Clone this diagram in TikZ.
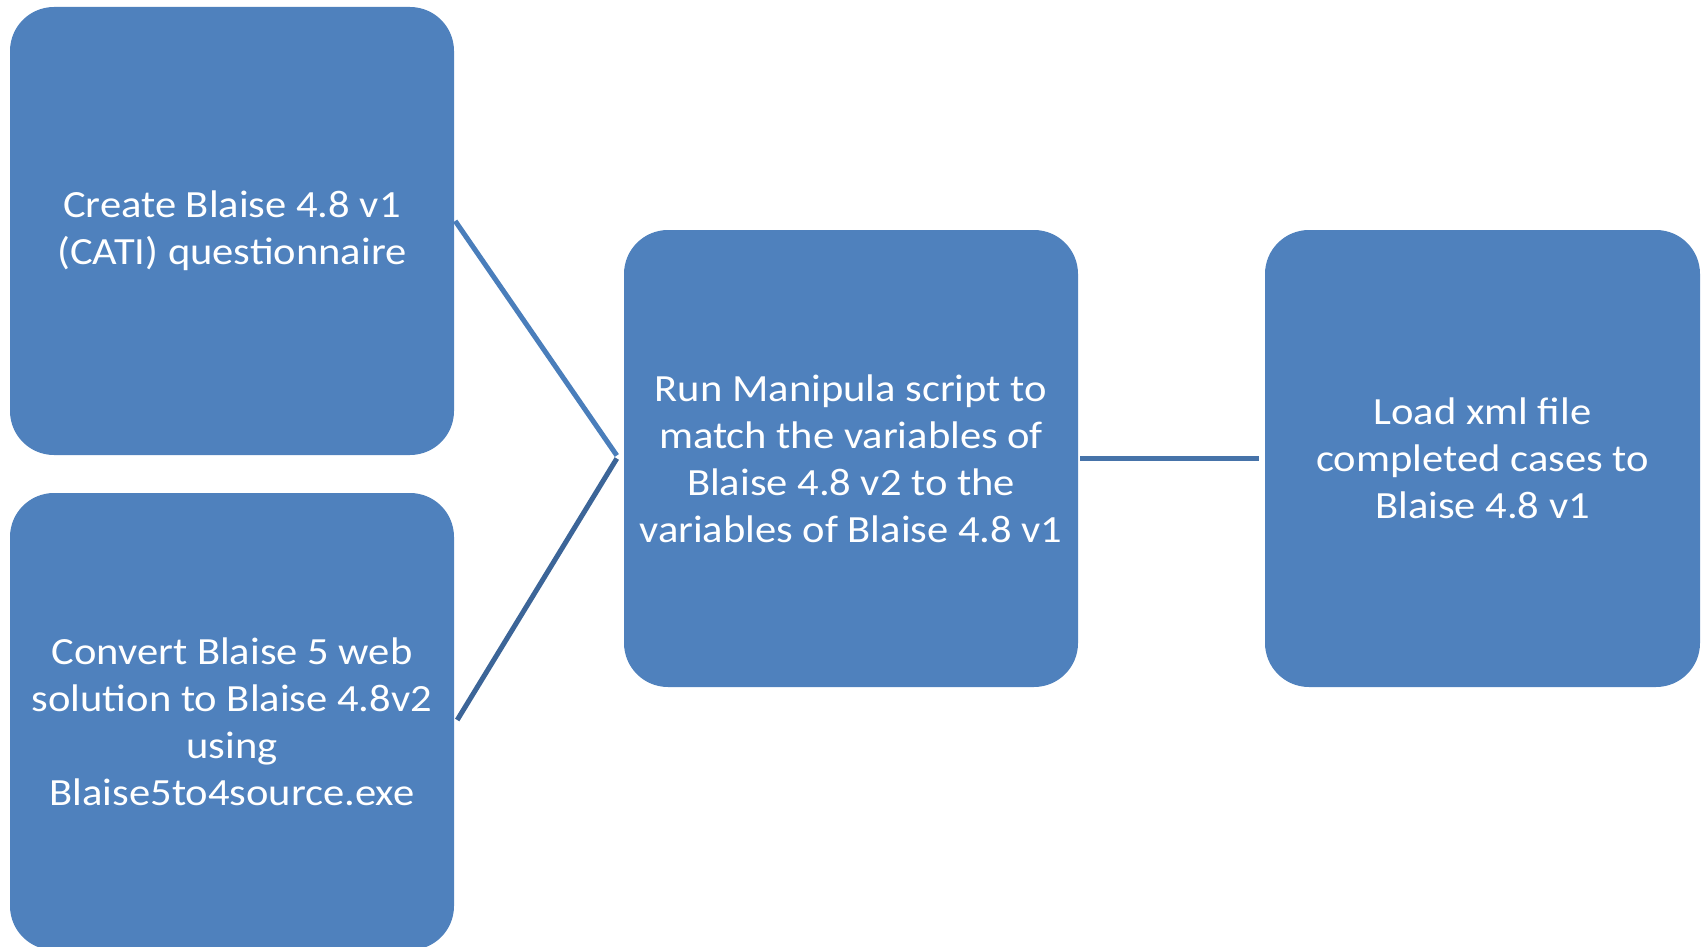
\documentclass[tikz,border=0pt]{standalone}
\usepackage{fontspec}
\setmainfont{Carlito}[FakeStretch=1.105]
\usetikzlibrary{calc}
\definecolor{boxblue}{HTML}{4F81BD}
\definecolor{lineA}{HTML}{4A7EBB}
\definecolor{lineB}{HTML}{3C6598}
\definecolor{lineC}{HTML}{4673A9}
\tikzset{
  stepbox/.style={rectangle, rounded corners=44pt, fill=boxblue, draw=none,
    inner sep=0pt, align=center, text=white,
    font=\fontsize{38.5}{47}\selectfont},
  conn/.style={line width=5pt}
}
\begin{document}
\begin{tikzpicture}[x=1pt,y=-1pt]
\useasboundingbox (0,0) rectangle (1702,947);
\clip (0,0) rectangle (1702,947);
\node[stepbox, minimum width=444pt, minimum height=448pt] (b1) at (232,231)
  {Create Blaise 4.8 v1\\(CATI) questionnaire};
\node[stepbox, minimum width=444pt, minimum height=457pt] (b2) at (232,721.5)
  {Convert Blaise 5 web\\solution to Blaise 4.8v2\\using\\Blaise5to4source.exe};
\node[stepbox, minimum width=454pt, minimum height=457pt] (b3) at (851,458.5)
  {Run Manipula script to\\match the variables of\\Blaise 4.8 v2 to the\\variables of Blaise 4.8 v1};
\node[stepbox, minimum width=435pt, minimum height=457pt] (b4) at (1482.5,458.5)
  {Load xml file\\completed cases to\\Blaise 4.8 v1};
\coordinate (s1) at ($(b1.east)+(1,-10)$);
\coordinate (j1) at ($(b3.west)+(-7,-3)$);
\coordinate (j2) at ($(b3.west)+(-7,0)$);
\coordinate (s2) at ($(b2.east)+(3,-1.5)$);
\coordinate (h1) at ($(b3.east)+(2,0)$);
\coordinate (h2) at ($(b4.west)+(-6,0)$);
\draw[conn, lineA] (s1) -- (j1);
\draw[conn, lineB] (j2) -- (s2);
\draw[conn, lineC] (h1) -- (h2);
\end{tikzpicture}
\end{document}
